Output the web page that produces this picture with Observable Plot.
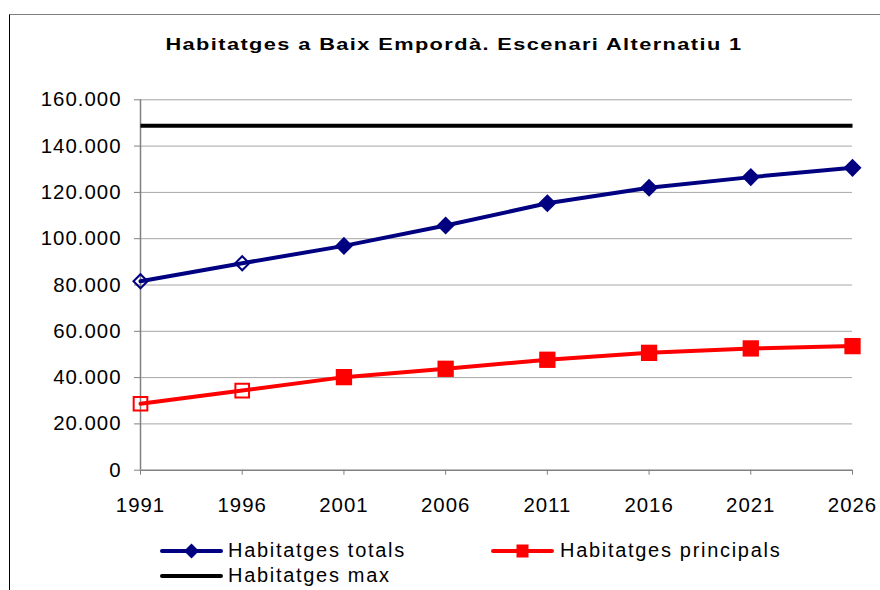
<!DOCTYPE html>
<html>
<head>
<meta charset="utf-8">
<script src="https://cdn.jsdelivr.net/npm/d3@7"></script>
<script src="https://cdn.jsdelivr.net/npm/@observablehq/plot@0.6"></script>
<style>
  body { margin: 0; background: #fff; }
  #wrap { position: relative; width: 880px; height: 590px; overflow: hidden; font-family: "Liberation Sans", Arial, sans-serif; color: #000; }
  #frame { position: absolute; left: 9px; top: 14px; width: 900px; height: 600px; border-left: 1px solid #000; border-top: 1px solid #808080; }
  #chart { position: absolute; left: 0; top: 0; }
  #title { position: absolute; left: 454px; top: 36.3px; font-weight: bold; font-size: 17px; line-height: 17px; letter-spacing: 1.1px; white-space: nowrap; transform: translateX(-50%) scaleX(1.28); transform-origin: center; }
  .lg { position: absolute; font-size: 20px; line-height: 20px; letter-spacing: 1.7px; white-space: nowrap; }
  .gl { position: absolute; }
</style>
</head>
<body>
<div id="wrap">
  <div id="frame"></div>
  <div id="chart"></div>
  <div id="title"></div>
  <div id="legend"></div>
</div>
<script>
// ---- data ----
const chartTitle = "Habitatges a Baix Empordà. Escenari Alternatiu 1";
const years = [1991, 1996, 2001, 2006, 2011, 2016, 2021, 2026];
const totals = [81600, 89400, 96900, 105700, 115300, 122000, 126600, 130600];
const principals = [28700, 34400, 40200, 43800, 47700, 50700, 52600, 53600];
const maxHabitatges = 148800;
const observedYears = [1991, 1996];
const yTicks = [0, 20000, 40000, 60000, 80000, 100000, 120000, 140000, 160000];
const xTicks = years;
const seriesNames = ["Habitatges totals", "Habitatges principals", "Habitatges max"];

// ---- build ----
const BLUE = "#000080", RED = "#ff0000", BLACK = "#000000";
const locale = d3.formatLocale({decimal: ",", thousands: ".", grouping: [3], currency: ["", " €"]});
const fmt = locale.format(",d");

const totalRows = years.map((yr, i) => ({year: yr, value: totals[i], observed: observedYears.includes(yr)}));
const principalRows = years.map((yr, i) => ({year: yr, value: principals[i], observed: observedYears.includes(yr)}));
const maxRows = years.map(yr => ({year: yr, value: maxHabitatges}));

const diamond = {
  draw(ctx, size) {
    const h = Math.sqrt(size / 2);
    ctx.moveTo(0, -h); ctx.lineTo(h, 0); ctx.lineTo(0, h); ctx.lineTo(-h, 0); ctx.closePath();
  }
};

const chart = Plot.plot({
  width: 880,
  height: 590,
  marginLeft: 140,
  marginRight: 28,
  marginTop: 99.3,
  marginBottom: 120.3,
  x: {domain: [d3.min(years), d3.max(years)]},
  y: {domain: [d3.min(yTicks), d3.max(yTicks)]},
  style: {fontFamily: "'Liberation Sans', Arial, sans-serif", fontSize: "20.4px", color: "#000", background: "transparent", overflow: "visible"},
  marks: [
    Plot.gridY(yTicks.filter(d => d > 0), {stroke: "#a6a6a6", strokeOpacity: 1, strokeWidth: 1}),
    Plot.ruleY([d3.min(yTicks)], {stroke: "#808080", strokeWidth: 1.5}),
    Plot.ruleX([d3.min(years)], {stroke: "#808080", strokeWidth: 1.5}),
    Plot.axisY(yTicks, {tickFormat: fmt, tickSize: 6, tickPadding: 13, stroke: "#808080", fill: "#000", label: null}),
    Plot.axisX(xTicks, {tickFormat: d => String(d), tickSize: 5, tickPadding: 22, stroke: "#808080", fill: "#000", label: null}),
    Plot.line(maxRows, {x: "year", y: "value", stroke: BLACK, strokeWidth: 4, strokeLinecap: "butt"}),
    Plot.line(totalRows, {x: "year", y: "value", stroke: BLUE, strokeWidth: 4}),
    Plot.line(principalRows, {x: "year", y: "value", stroke: RED, strokeWidth: 4}),
    Plot.dot(totalRows.filter(d => !d.observed), {x: "year", y: "value", symbol: diamond, r: 7.2, fill: BLUE, stroke: "none"}),
    Plot.dot(totalRows.filter(d => d.observed), {x: "year", y: "value", symbol: diamond, r: 5.6, fill: "none", stroke: BLUE, strokeWidth: 2}),
    Plot.dot(principalRows.filter(d => !d.observed), {x: "year", y: "value", symbol: "square", r: 9.2, fill: RED, stroke: "none"}),
    Plot.dot(principalRows.filter(d => d.observed), {x: "year", y: "value", symbol: "square", r: 7.7, fill: "none", stroke: RED, strokeWidth: 2})
  ]
});
chart.style.letterSpacing = "1px";
document.getElementById("chart").appendChild(chart);
document.getElementById("title").textContent = chartTitle;

// ---- legend ----
const legendItems = [
  {name: seriesNames[0], color: BLUE, marker: "diamond", gx: 160, gy: 551, tx: 228, ty: 540},
  {name: seriesNames[1], color: RED, marker: "square", gx: 491, gy: 551, tx: 560, ty: 540},
  {name: seriesNames[2], color: BLACK, marker: null, gx: 160, gy: 576, tx: 228, ty: 565}
];
const legend = document.getElementById("legend");
const NS = "http://www.w3.org/2000/svg";
for (const it of legendItems) {
  const svg = document.createElementNS(NS, "svg");
  svg.setAttribute("width", 64); svg.setAttribute("height", 18);
  svg.setAttribute("class", "gl");
  svg.style.left = it.gx + "px"; svg.style.top = (it.gy - 9) + "px";
  const ln = document.createElementNS(NS, "line");
  ln.setAttribute("x1", 2); ln.setAttribute("x2", 61); ln.setAttribute("y1", 9); ln.setAttribute("y2", 9);
  ln.setAttribute("stroke", it.color); ln.setAttribute("stroke-width", 4); ln.setAttribute("stroke-linecap", "round");
  svg.appendChild(ln);
  if (it.marker === "diamond") {
    const p = document.createElementNS(NS, "path");
    p.setAttribute("d", "M31.5,1.5L39,9L31.5,16.5L24,9Z"); p.setAttribute("fill", it.color);
    svg.appendChild(p);
  } else if (it.marker === "square") {
    const r = document.createElementNS(NS, "rect");
    r.setAttribute("x", 25.5); r.setAttribute("y", 2.5); r.setAttribute("width", 12); r.setAttribute("height", 13); r.setAttribute("fill", it.color);
    svg.appendChild(r);
  }
  legend.appendChild(svg);
  const t = document.createElement("div");
  t.className = "lg"; t.style.left = it.tx + "px"; t.style.top = it.ty + "px";
  t.textContent = it.name;
  legend.appendChild(t);
}
</script>
</body>
</html>
